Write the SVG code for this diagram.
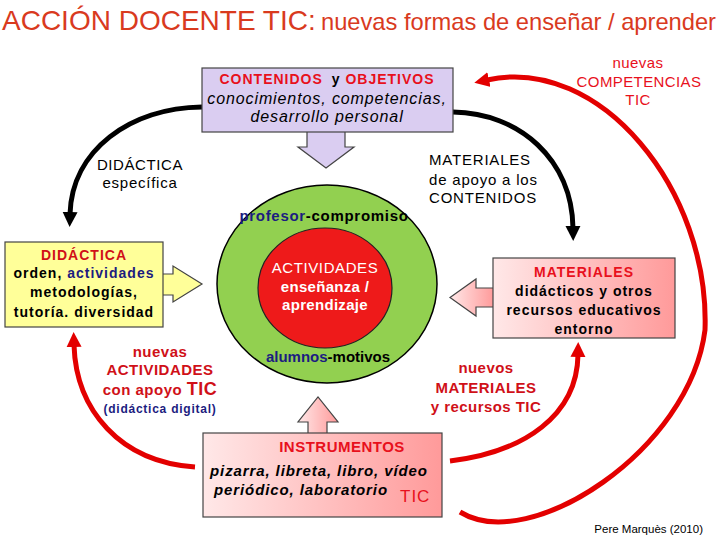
<svg xmlns="http://www.w3.org/2000/svg" width="720" height="540" viewBox="0 0 720 540">
<defs>
<style>
text{font-family:"Liberation Sans",Arial,sans-serif;fill:#000}
.b{font-weight:bold}
.it{font-style:italic}
.box{stroke:#444;stroke-width:1.2}
.blk{fill:none;stroke:#000;stroke-width:5}
.red{fill:none;stroke:#e30000;stroke-width:5}
.r{fill:#e8101c}
.dr{fill:#d01018}
.nv{fill:#1c1c80}
.w{fill:#fff}
.lav{fill:#dacdf1}
.ttl{fill:#d93a1e}
</style>
<linearGradient id="pink" x1="0" y1="0" x2="1" y2="0">
<stop offset="0" stop-color="#ffe8e8"/><stop offset="1" stop-color="#ff9a9a"/>
</linearGradient>
<marker id="ahB" viewBox="0 -8 16 16" refX="2" refY="0" markerWidth="16" markerHeight="16" markerUnits="userSpaceOnUse" orient="auto">
<path d="M0,-7.5 L15,0 L0,7.5 z" fill="#000"/>
</marker>
<marker id="ahR" viewBox="0 -8 16 16" refX="2" refY="0" markerWidth="16" markerHeight="16" markerUnits="userSpaceOnUse" orient="auto">
<path d="M0,-7.5 L15,0 L0,7.5 z" fill="#e30000"/>
</marker>
</defs>
<rect width="720" height="540" fill="#fff"/>

<g id="title">
<text x="2" y="30" font-size="28" class="ttl">ACCIÓN DOCENTE TIC:</text>
<text x="321" y="30" font-size="24" class="ttl" textLength="395" lengthAdjust="spacingAndGlyphs">nuevas formas de enseñar / aprender</text>
</g>

<g id="connectors">
<path class="blk" d="M202,107 C130,108 72,150 70,214" marker-end="url(#ahB)"/>
<path class="blk" d="M453,112 C520,113 572,160 573,228" marker-end="url(#ahB)"/>
<path class="red" d="M195,467 C120,462 76,410 74,345" marker-end="url(#ahR)"/>
<path class="red" d="M450,461 C525,452 577,415 578,355" marker-end="url(#ahR)"/>
<path class="red" d="M460,512 C530,555 690,450 705,330 C710,190 600,55 487,80" marker-end="url(#ahR)"/>
</g>

<g id="nucleo">
<ellipse cx="327" cy="284" rx="110" ry="99" fill="#92d050" stroke="#000" stroke-width="1.5"/>
<ellipse cx="325" cy="288" rx="67" ry="60" fill="#ee1a1a" stroke="#222" stroke-width="1.2"/>
<text x="324" y="221" text-anchor="middle" font-size="15" class="b" letter-spacing="0.7"><tspan class="nv">profesor</tspan>-compromiso</text>
<text x="328" y="362" text-anchor="middle" font-size="15" class="b"><tspan class="nv">alumnos</tspan>-motivos</text>
<text x="325" y="273" text-anchor="middle" font-size="15" class="w" letter-spacing="0.6">ACTIVIDADES</text>
<text x="325" y="292" text-anchor="middle" font-size="15" class="w b" letter-spacing="0.3">enseñanza /</text>
<text x="325" y="310" text-anchor="middle" font-size="15" class="w b" letter-spacing="0.3">aprendizaje</text>
</g>

<g id="contenidos">
<polygon class="box lav" points="307,131 307,147 298,147 326,168 354,147 345,147 345,131"/>
<rect class="box lav" x="202" y="68" width="251" height="64"/>
<text x="327" y="84" text-anchor="middle" font-size="14" class="b" letter-spacing="1"><tspan class="r">CONTENIDOS</tspan><tspan dx="4"> y </tspan><tspan class="r">OBJETIVOS</tspan></text>
<text x="327" y="104" text-anchor="middle" font-size="16" class="it" letter-spacing="0.9">conocimientos, competencias,</text>
<text x="327" y="122" text-anchor="middle" font-size="16" class="it" letter-spacing="0.9">desarrollo personal</text>
</g>

<g id="didactica">
<polygon class="box" fill="#ffff99" points="162,274 173,274 173,266 202,284 173,302 173,295 162,295"/>
<rect class="box" fill="#ffff99" x="5" y="242" width="158" height="85"/>
<text x="84" y="260" text-anchor="middle" font-size="14" class="b dr" letter-spacing="1">DIDÁCTICA</text>
<text x="84" y="278" text-anchor="middle" font-size="14" class="b" letter-spacing="1">orden, <tspan class="nv">actividades</tspan></text>
<text x="84" y="297" text-anchor="middle" font-size="14" class="b" letter-spacing="1">metodologías,</text>
<text x="84" y="317" text-anchor="middle" font-size="14" class="b" letter-spacing="1">tutoría. diversidad</text>
</g>

<g id="materiales">
<polygon class="box" fill="url(#pink)" points="494,288 476,288 476,279 450,297.5 476,316 476,307 494,307"/>
<rect class="box" fill="url(#pink)" x="493" y="258" width="182" height="80"/>
<text x="584" y="277" text-anchor="middle" font-size="14" class="b r" letter-spacing="1">MATERIALES</text>
<text x="584" y="296" text-anchor="middle" font-size="14" class="b" letter-spacing="1">didácticos y otros</text>
<text x="584" y="315" text-anchor="middle" font-size="14" class="b" letter-spacing="1">recursos educativos</text>
<text x="584" y="334" text-anchor="middle" font-size="14" class="b" letter-spacing="1">entorno</text>
</g>

<g id="instrumentos">
<polygon class="box" fill="url(#pink)" points="308,434 308,422 298,422 318,397 338,422 327,422 327,434"/>
<rect class="box" fill="url(#pink)" x="203" y="433" width="239" height="84"/>
<text x="342" y="452" text-anchor="middle" font-size="15" class="b r" letter-spacing="0.5">INSTRUMENTOS</text>
<text x="210" y="476" font-size="15" class="b it" letter-spacing="0.9">pizarra, libreta, libro, vídeo</text>
<text x="214" y="495" font-size="15" class="b it" letter-spacing="0.9">periódico, laboratorio</text>
<text x="400" y="502" font-size="17" class="r" letter-spacing="1">TIC</text>
</g>

<g id="etiquetas">
<text x="140" y="170" text-anchor="middle" font-size="15" letter-spacing="0.6">DIDÁCTICA</text>
<text x="140" y="188" text-anchor="middle" font-size="15" letter-spacing="0.75">específica</text>
<text x="429" y="165" font-size="15" letter-spacing="0.8">MATERIALES</text>
<text x="429" y="185" font-size="15" letter-spacing="0.8">de apoyo a los</text>
<text x="429" y="203" font-size="15" letter-spacing="0.8">CONTENIDOS</text>
<text x="638" y="68" text-anchor="middle" font-size="15" class="r" letter-spacing="0.4">nuevas</text>
<text x="639" y="87" text-anchor="middle" font-size="15" class="r" letter-spacing="0.4">COMPETENCIAS</text>
<text x="638" y="105" text-anchor="middle" font-size="15" class="r" letter-spacing="0.4">TIC</text>
<text x="160" y="357" text-anchor="middle" font-size="15" class="b dr" letter-spacing="0.5">nuevas</text>
<text x="160" y="375" text-anchor="middle" font-size="15" class="b dr" letter-spacing="0.5">ACTIVIDADES</text>
<text x="160" y="395" text-anchor="middle" font-size="15" class="b dr" letter-spacing="0.5">con apoyo <tspan font-size="18">TIC</tspan></text>
<text x="160" y="413" text-anchor="middle" font-size="12" class="b nv" letter-spacing="0.75">(didáctica digital)</text>
<text x="486" y="373" text-anchor="middle" font-size="15" class="b dr" letter-spacing="0.45">nuevos</text>
<text x="486" y="393" text-anchor="middle" font-size="15" class="b dr" letter-spacing="0.45">MATERIALES</text>
<text x="486" y="412" text-anchor="middle" font-size="15" class="b dr" letter-spacing="0.45">y recursos TIC</text>
<text x="703" y="533" text-anchor="end" font-size="11.5">Pere Marquès (2010)</text>
</g>
</svg>
